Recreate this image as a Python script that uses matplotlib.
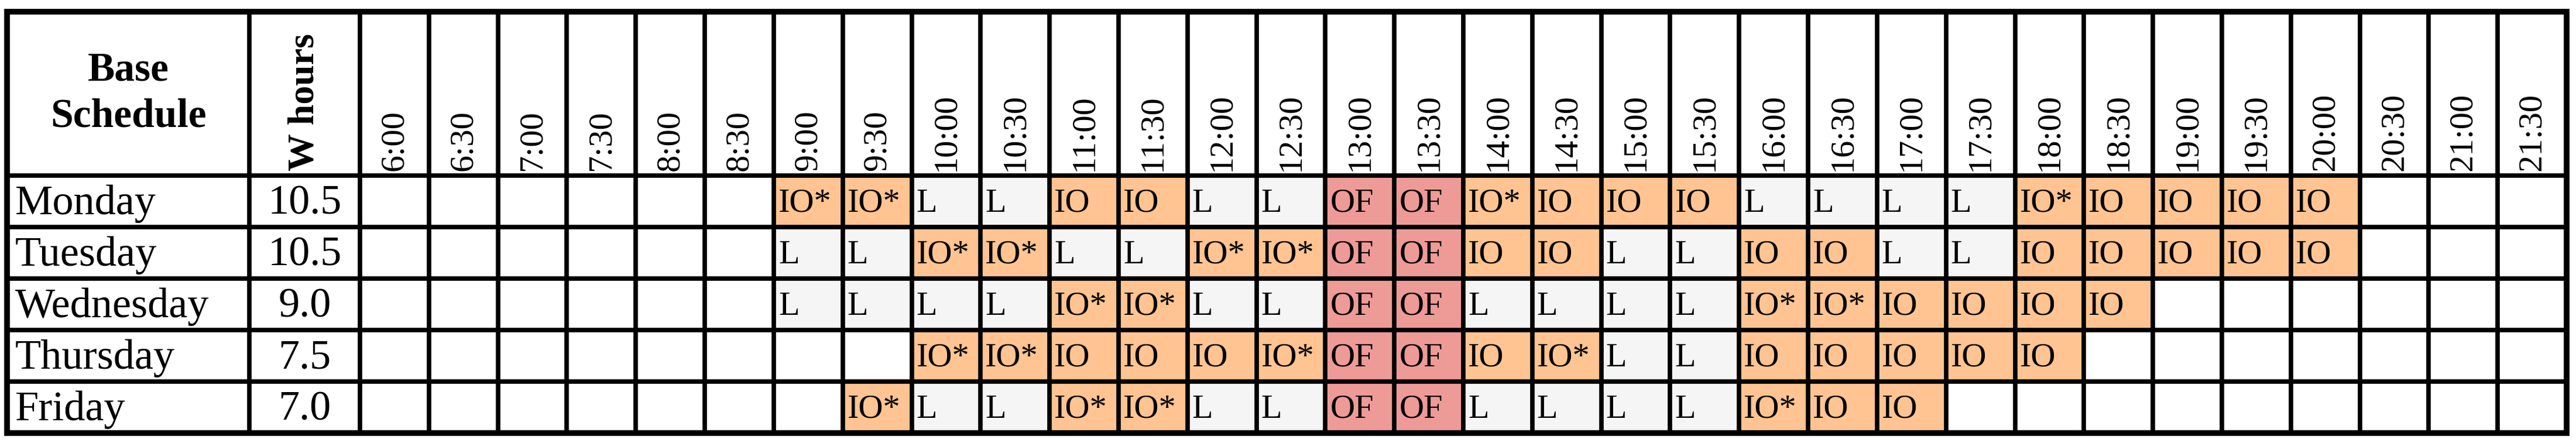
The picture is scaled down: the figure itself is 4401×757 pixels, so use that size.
import matplotlib.pyplot as plt
from matplotlib.patches import Rectangle

days = ['Monday', 'Tuesday', 'Wednesday', 'Thursday', 'Friday']
work_hours = ['10.5', '10.5', '9.0', '7.5', '7.0']
times = ['%d:%s' % (h, m) for h in range(6, 22) for m in ('00', '30')]

# slots from 9:00 onward, "" = empty
schedule = {
    'Monday':    ['IO*', 'IO*', 'L', 'L', 'IO', 'IO', 'L', 'L', 'OF', 'OF', 'IO*', 'IO', 'IO', 'IO',
                  'L', 'L', 'L', 'L', 'IO*', 'IO', 'IO', 'IO', 'IO'],
    'Tuesday':   ['L', 'L', 'IO*', 'IO*', 'L', 'L', 'IO*', 'IO*', 'OF', 'OF', 'IO', 'IO', 'L', 'L',
                  'IO', 'IO', 'L', 'L', 'IO', 'IO', 'IO', 'IO', 'IO'],
    'Wednesday': ['L', 'L', 'L', 'L', 'IO*', 'IO*', 'L', 'L', 'OF', 'OF', 'L', 'L', 'L', 'L',
                  'IO*', 'IO*', 'IO', 'IO', 'IO', 'IO'],
    'Thursday':  ['', '', 'IO*', 'IO*', 'IO', 'IO', 'IO', 'IO*', 'OF', 'OF', 'IO', 'IO*', 'L', 'L',
                  'IO', 'IO', 'IO', 'IO', 'IO'],
    'Friday':    ['', 'IO*', 'L', 'L', 'IO*', 'IO*', 'L', 'L', 'OF', 'OF', 'L', 'L', 'L', 'L',
                  'IO*', 'IO', 'IO'],
}
start_slot = times.index('9:00')

colors = {'IO': '#ffc491', 'IO*': '#ffc491', 'L': '#f5f5f5', 'OF': '#ee9b98', '': 'white'}

W, H = 4401, 757
fig = plt.figure(figsize=(W / 100, H / 100), dpi=100)
ax = fig.add_axes([0, 0, 1, 1])
ax.set_xlim(0, W)
ax.set_ylim(H, 0)
ax.axis('off')

# layout (pixels)
left, x_hours, x_times, right = 12, 426, 615, 4385
top, header_bot, bottom = 20, 300, 740
col_w = (right - x_times) / len(times)
row_h = (bottom - header_bot) / len(days)
serif = 'Liberation Serif'

for r, day in enumerate(days):
    y0 = header_bot + r * row_h
    yc = y0 + row_h / 2
    ax.text(left + 14, yc + 4, day, fontsize=52, family=serif, va='center', ha='left')
    ax.text((x_hours + x_times) / 2, yc + 4, work_hours[r], fontsize=52, family=serif,
            va='center', ha='center')
    slots = [''] * start_slot + schedule[day]
    for c, code in enumerate(slots):
        x0 = x_times + c * col_w
        ax.add_patch(Rectangle((x0, y0), col_w, row_h, color=colors[code], lw=0, zorder=1))
        if code:
            ax.text(x0 + 8, yc + 4, code, fontsize=42, family=serif, va='center', ha='left',
                    zorder=3)

for c, t in enumerate(times):
    ax.text(x_times + (c + 0.5) * col_w, header_bot - 8, t, fontsize=42, family=serif,
            rotation=90, va='bottom', ha='center')

ax.text((left + x_hours) / 2, 160, 'Base\nSchedule', fontsize=50, family=serif,
        weight='bold', ha='center', va='center', linespacing=1.3)
ax.text((x_hours + x_times) / 2, header_bot - 8, 'W hours', fontsize=46, family=serif,
        weight='bold', rotation=90, ha='center', va='bottom')

# grid lines
lw = 5.5
for x in [x_hours] + [x_times + i * col_w for i in range(len(times))]:
    ax.plot([x, x], [top, bottom], color='black', lw=lw, zorder=4)
for r in range(len(days) + 1):
    ax.plot([left, right], [header_bot + r * row_h] * 2, color='black', lw=lw, zorder=4)
ax.add_patch(Rectangle((left, top), right - left, bottom - top, fill=False,
                       ec='black', lw=7, zorder=5))

fig.savefig('out.png', dpi=100)
